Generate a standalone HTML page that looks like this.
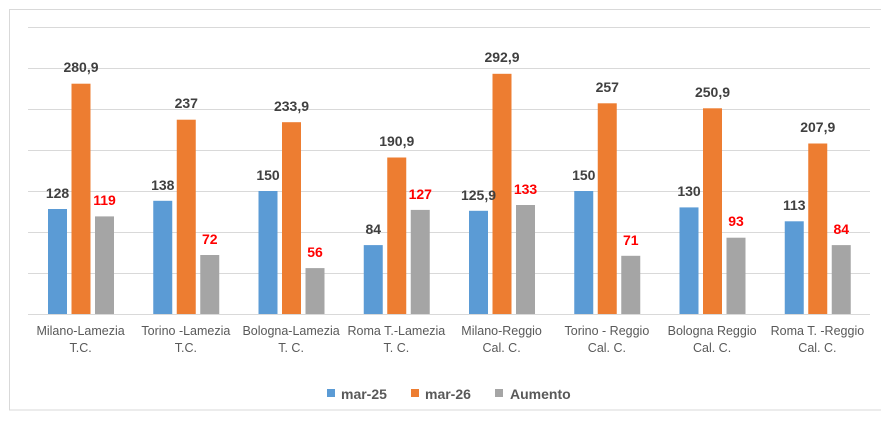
<!DOCTYPE html>
<html><head><meta charset="utf-8"><style>
html,body{margin:0;padding:0;background:#fff;}
svg{display:block;font-family:"Liberation Sans",sans-serif;}
.v{font-size:14px;font-weight:bold;fill:#404040;text-anchor:middle;}
.r{font-size:14px;font-weight:bold;fill:#ff0000;text-anchor:middle;}
.c{font-size:12.5px;fill:#595959;text-anchor:middle;}
.l{font-size:14px;font-weight:bold;fill:#595959;}
</style></head><body>
<svg width="881" height="424" viewBox="0 0 881 424">
<rect x="9.5" y="9.5" width="880" height="400.5" fill="#fff" stroke="#d9d9d9"/>
<g stroke="#d9d9d9" stroke-width="1">
<line x1="28" x2="870" y1="27.5" y2="27.5"/><line x1="28" x2="870" y1="68.5" y2="68.5"/>
<line x1="28" x2="870" y1="109.5" y2="109.5"/><line x1="28" x2="870" y1="150.5" y2="150.5"/>
<line x1="28" x2="870" y1="191.5" y2="191.5"/><line x1="28" x2="870" y1="232.5" y2="232.5"/>
<line x1="28" x2="870" y1="273.5" y2="273.5"/><line x1="28" x2="870" y1="314.5" y2="314.5"/>
</g>
<g fill="#5b9bd5">
<rect x="48" y="209" width="19" height="105"/><rect x="153.25" y="200.8" width="19" height="113.2"/>
<rect x="258.5" y="191" width="19" height="123"/><rect x="363.75" y="245.1" width="19" height="68.9"/>
<rect x="469" y="210.8" width="19" height="103.2"/><rect x="574.25" y="191" width="19" height="123"/>
<rect x="679.5" y="207.4" width="19" height="106.6"/><rect x="784.75" y="221.3" width="19" height="92.7"/>
</g>
<g fill="#ed7d31">
<rect x="71.5" y="83.7" width="19" height="230.3"/><rect x="176.75" y="119.7" width="19" height="194.3"/>
<rect x="282" y="122.2" width="19" height="191.8"/><rect x="387.25" y="157.5" width="19" height="156.5"/>
<rect x="492.5" y="73.8" width="19" height="240.2"/><rect x="597.75" y="103.3" width="19" height="210.7"/>
<rect x="703" y="108.3" width="19" height="205.7"/><rect x="808.25" y="143.5" width="19" height="170.5"/>
</g>
<g fill="#a5a5a5">
<rect x="95" y="216.4" width="19" height="97.6"/><rect x="200.25" y="255" width="19" height="59"/>
<rect x="305.5" y="268.1" width="19" height="45.9"/><rect x="410.75" y="209.9" width="19" height="104.1"/>
<rect x="516" y="205" width="19" height="109"/><rect x="621.25" y="255.8" width="19" height="58.2"/>
<rect x="726.5" y="237.7" width="19" height="76.3"/><rect x="831.75" y="245.1" width="19" height="68.9"/>
</g>
<text class="v" x="57.5" y="198">128</text><text class="v" x="162.75" y="190">138</text>
<text class="v" x="268" y="180">150</text><text class="v" x="373.25" y="234">84</text>
<text class="v" x="478.5" y="200">125,9</text><text class="v" x="583.75" y="180">150</text>
<text class="v" x="689" y="196">130</text><text class="v" x="794.25" y="210">113</text>
<text class="v" x="81" y="72">280,9</text><text class="v" x="186.25" y="108">237</text>
<text class="v" x="291.5" y="111">233,9</text><text class="v" x="396.75" y="146">190,9</text>
<text class="v" x="502" y="62">292,9</text><text class="v" x="607.25" y="92">257</text>
<text class="v" x="712.5" y="97">250,9</text><text class="v" x="817.75" y="132">207,9</text>
<text class="r" x="104.5" y="205">119</text><text class="r" x="209.75" y="244">72</text>
<text class="r" x="315" y="257">56</text><text class="r" x="420.25" y="199">127</text>
<text class="r" x="525.5" y="194">133</text><text class="r" x="630.75" y="245">71</text>
<text class="r" x="736" y="226">93</text><text class="r" x="841.25" y="234">84</text>
<text class="c" x="80.6" y="335">Milano-Lamezia</text><text class="c" x="80.6" y="352">T.C.</text>
<text class="c" x="185.9" y="335">Torino -Lamezia</text><text class="c" x="185.9" y="352">T.C.</text>
<text class="c" x="291.1" y="335">Bologna-Lamezia</text><text class="c" x="291.1" y="352">T. C.</text>
<text class="c" x="396.4" y="335">Roma T.-Lamezia</text><text class="c" x="396.4" y="352">T. C.</text>
<text class="c" x="501.6" y="335">Milano-Reggio</text><text class="c" x="501.6" y="352">Cal. C.</text>
<text class="c" x="606.9" y="335">Torino - Reggio</text><text class="c" x="606.9" y="352">Cal. C.</text>
<text class="c" x="712.1" y="335">Bologna Reggio</text><text class="c" x="712.1" y="352">Cal. C.</text>
<text class="c" x="817.4" y="335">Roma T. -Reggio</text><text class="c" x="817.4" y="352">Cal. C.</text>
<rect x="327" y="389" width="8" height="8" fill="#5b9bd5"/><text class="l" x="341" y="399">mar-25</text>
<rect x="411" y="389" width="8" height="8" fill="#ed7d31"/><text class="l" x="425" y="399">mar-26</text>
<rect x="495" y="389" width="8" height="8" fill="#a5a5a5"/><text class="l" x="510" y="399">Aumento</text>
</svg>
</body></html>
